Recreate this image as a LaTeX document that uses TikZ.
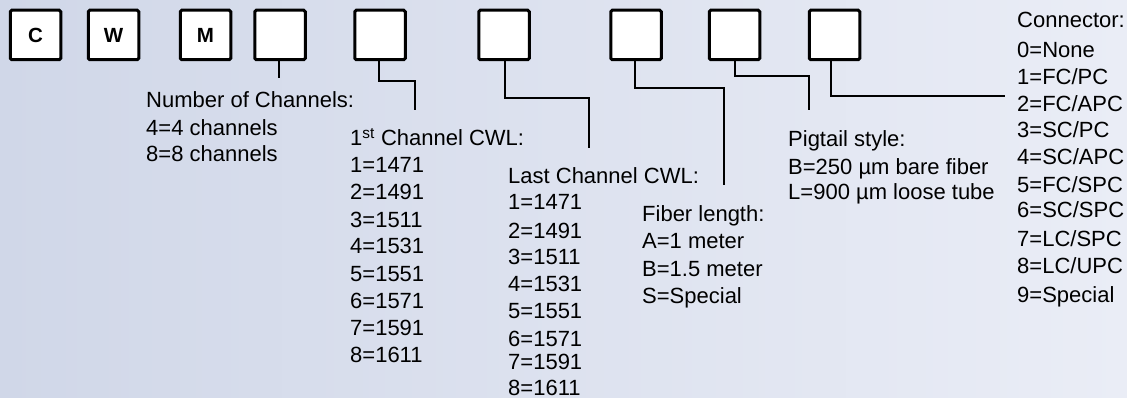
\documentclass[tikz,border=0pt]{standalone}
\usepackage{fontspec}
\setmainfont{Liberation Sans}
\definecolor{bgleft}{RGB}{208,215,232}
\definecolor{bgright}{RGB}{234,237,246}
\begin{document}
\begin{tikzpicture}[x=1pt,y=-1pt,
  codebox/.style={draw=black,line width=3pt,fill=white,rounded corners=1.5pt,
    minimum width=50.5pt,minimum height=49.5pt,inner sep=0pt,
    font=\fontsize{20.5}{20.5}\selectfont\bfseries},
  txt/.style={anchor=base west,inner sep=0pt,font=\fontsize{22}{27}\selectfont},
  lead/.style={line width=1.8pt,black}]
\fill[left color=bgleft,right color=bgright] (0,0) rectangle (1127,398);
\useasboundingbox (0,0) rectangle (1127,398);
% code boxes
\node[codebox] (b1) at (35.5,35) {C};
\node[codebox] (b2) at (113.5,35) {W};
\node[codebox] (b3) at (205.5,35) {M};
\node[codebox] (b4) at (280,35) {};
\node[codebox] (b5) at (380,35) {};
\node[codebox] (b6) at (504,35) {};
\node[codebox] (b7) at (636,35) {};
\node[codebox] (b8) at (734.5,35) {};
\node[codebox] (b9) at (834.5,35) {};
% Number of channels
\node[txt] (nch) at (146,108) {Number of Channels:};
\node[txt] (nch1) at (146,136) {4=4 channels};
\node[txt] (nch2) at (146,162) {8=8 channels};
% first channel
\node[txt] (fc) at (350,146) {1\textsuperscript{st} Channel CWL:};
\foreach \yy/\tt [count=\i] in {173/1=1471,200/2=1491,228/3=1511,254/4=1531,281/5=1551,308/6=1571,335/7=1591,362/8=1611}
  \node[txt] (fc\i) at (350,\yy) {\tt};
% last channel
\node[txt] (lc) at (508,184) {Last Channel CWL:};
\foreach \yy/\tt [count=\i] in {210/1=1471,238/2=1491,265/3=1511,291/4=1531,318/5=1551,346/6=1571,369/7=1591,395/8=1611}
  \node[txt] (lc\i) at (508,\yy) {\tt};
% fiber length
\node[txt] (fl) at (642,222) {Fiber length:};
\node[txt] (fl1) at (642,248) {A=1 meter};
\node[txt] (fl2) at (642,276) {B=1.5 meter};
\node[txt] (fl3) at (642,303) {S=Special};
% pigtail
\node[txt] (pg) at (788,147) {Pigtail style:};
\node[txt] (pg1) at (788,175) {B=250 µm bare fiber};
\node[txt] (pg2) at (788,200) {L=900 µm loose tube};
% connector
\node[txt] (cn) at (1017,28) {Connector:};
\foreach \yy/\tt [count=\i] in {58/0=None,85/1=FC\slash PC,112/2=FC\slash APC,138/3=SC\slash PC,165/4=SC\slash APC,193/5=FC\slash SPC,218/6=SC\slash SPC,247/7=LC\slash SPC,273/8=LC\slash UPC,302/9=Special}
  \node[txt] (cn\i) at (1017,\yy) {\tt};
% leader lines
\coordinate (e4) at (279,78);
\coordinate (k5) at (415,81);  \coordinate (e5) at (415,110);
\coordinate (k6) at (589,98);  \coordinate (e6) at (589,148);
\coordinate (k7) at (724,88);  \coordinate (e7) at (724,185);
\coordinate (k8) at (809,76);  \coordinate (e8) at (809,110);
\coordinate (e9) at (1005,96);
\draw[lead] (b4.south -| e4) -- (e4);
\draw[lead] ([xshift=-1pt]b5.south) |- (k5) -- (e5);
\draw[lead] ([xshift=1pt]b6.south) |- (k6) -- (e6);
\draw[lead] ([xshift=-1pt]b7.south) |- (k7) -- (e7);
\draw[lead] ([xshift=0.5pt]b8.south) |- (k8) -- (e8);
\draw[lead] ([xshift=-3.5pt]b9.south) |- (e9);
\end{tikzpicture}
\end{document}
